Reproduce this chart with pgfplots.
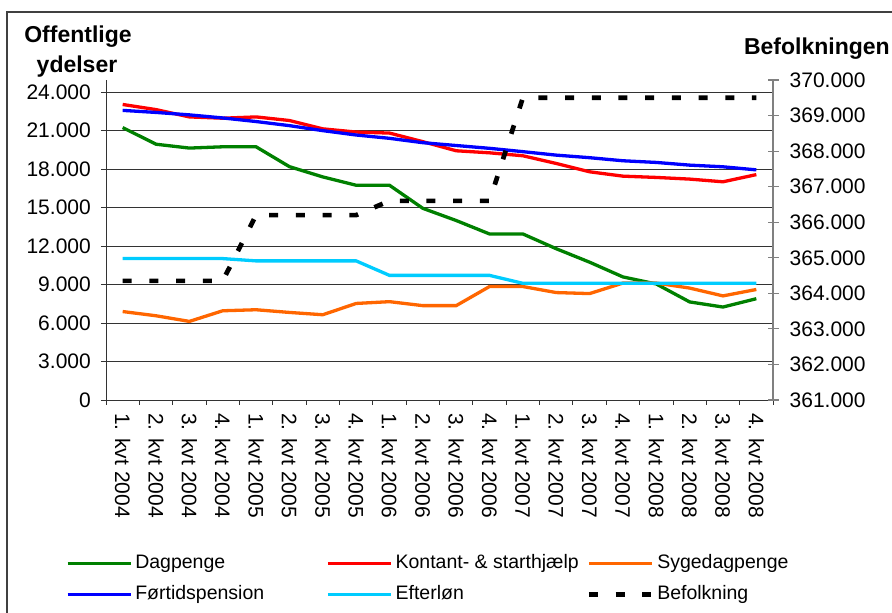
\documentclass[border=0pt]{standalone}
\usepackage{pgfplots}
\pgfplotsset{compat=1.18}
\usepackage{pgfplotstable}
\usepackage{fontspec}
\setmainfont{Liberation Sans}

\definecolor{cgreen}{RGB}{0,128,0}
\definecolor{cred}{RGB}{255,0,0}
\definecolor{corange}{RGB}{255,102,0}
\definecolor{cblue}{RGB}{0,0,255}
\definecolor{ccyan}{RGB}{0,204,255}

\pgfplotstableread{
x dag kon syg for eft bef
0 21250 23050 6900 22590 11030 364350
1 19950 22650 6570 22430 11030 364350
2 19650 22080 6130 22240 11030 364350
3 19750 21980 6960 22000 11030 364350
4 19750 22080 7040 21720 10850 366200
5 18200 21800 6830 21400 10850 366200
6 17400 21150 6650 21010 10850 366200
7 16750 20900 7530 20670 10850 366200
8 16750 20820 7670 20410 9720 366600
9 14950 20150 7360 20070 9720 366600
10 14000 19440 7360 19850 9720 366600
11 12950 19280 8850 19630 9720 366600
12 12950 19050 8850 19370 9100 369500
13 11800 18450 8380 19100 9100 369500
14 10750 17800 8300 18900 9100 369500
15 9600 17460 9120 18660 9100 369500
16 9050 17360 9120 18530 9100 369500
17 7650 17230 8730 18320 9100 369500
18 7250 17020 8120 18190 9100 369500
19 7900 17580 8620 17950 9100 369500
}\datatable

\begin{document}
\begin{tikzpicture}[x=1pt,y=1pt]
\useasboundingbox (0,0) rectangle (892,613);
\draw[black!75, line width=1.2pt] (7,-20) -- (7,601) -- (910,601);

\begin{axis}[
  at={(106pt,213pt)}, anchor=south west, scale only axis,
  width=667pt, height=320pt,
  xmin=-0.5, xmax=19.5, ymin=0, ymax=24960,
  axis x line*=bottom, axis y line*=left,
  axis line style={black!80, line width=0.9pt},
  tick style={black!80, line width=0.9pt},
  tick align=outside, major tick length=5pt,
  xtick={-0.5,0.5,...,19.5},
  x tick label as interval,
  xticklabels={1. kvt 2004,2. kvt 2004,3. kvt 2004,4. kvt 2004,1. kvt 2005,2. kvt 2005,3. kvt 2005,4. kvt 2005,1. kvt 2006,2. kvt 2006,3. kvt 2006,4. kvt 2006,1. kvt 2007,2. kvt 2007,3. kvt 2007,4. kvt 2007,1. kvt 2008,2. kvt 2008,3. kvt 2008,4. kvt 2008},
  xticklabel style={rotate=-90, anchor=west, inner sep=0pt},
  xticklabel shift=8pt,
  ytick={0,3000,...,24000},
  ymajorgrids, grid style={black!80, line width=0.9pt},
  tick label style={font=\fontsize{21}{25}\selectfont},
  /pgf/number format/assume math mode=true,
  /pgf/number format/1000 sep={.},
  yticklabel style={anchor=east, inner sep=0pt, xshift=-10pt},
  scaled y ticks=false,
  legend columns=3,
  legend cell align=left,
  legend style={draw=none, fill=none, at={(axis description cs:-0.06,-0.4815)}, anchor=north west,
    inner sep=0pt, outer sep=0pt, font=\fontsize{19.5}{22}\selectfont,
    nodes={inner sep=0pt, text height=14.5pt, text depth=4.5pt},
    /tikz/column sep=0pt, /tikz/row sep=12pt},
  legend image code/.code={\draw[#1] (0pt,0pt) -- (63pt,0pt); \path (66pt,0pt);},
]
\addplot[cgreen, line width=3.3pt] table[x=x,y=dag]{\datatable};
\addlegendentry{\makebox[191pt][l]{Dagpenge}}
\addplot[cred, line width=3.3pt] table[x=x,y=kon]{\datatable};
\addlegendentry{\makebox[191pt][l]{Kontant- \& starthjælp}}
\addplot[corange, line width=3.3pt] table[x=x,y=syg]{\datatable};
\addlegendentry{\makebox[191pt][l]{Sygedagpenge}}
\addplot[cblue, line width=3.3pt] table[x=x,y=for]{\datatable};
\addlegendentry{\makebox[191pt][l]{Førtidspension}}
\addplot[ccyan, line width=3.3pt] table[x=x,y=eft]{\datatable};
\addlegendentry{\makebox[191pt][l]{Efterløn}}
\addlegendimage{black, line width=4.7pt, dash pattern=on 9pt off 17.7pt}
\addlegendentry{\makebox[191pt][l]{Befolkning}}
\end{axis}

\begin{axis}[
  at={(106pt,213pt)}, anchor=south west, scale only axis,
  width=667pt, height=320pt,
  xmin=-0.5, xmax=19.5, ymin=361000, ymax=370000,
  axis x line=none, axis y line*=right,
  axis line style={black!50, line width=1.2pt},
  tick style={black!50, line width=1.2pt},
  tick align=center, major tick length=11pt,
  ytick={361000,362000,...,370000},
  scaled y ticks=false,
  tick label style={font=\fontsize{21}{25}\selectfont},
  /pgf/number format/assume math mode=true,
  /pgf/number format/fixed,
  /pgf/number format/1000 sep={.},
  yticklabel style={anchor=west, inner sep=0pt, xshift=11pt},
]
\addplot[black, line width=4.7pt, dash pattern=on 9pt off 17.7pt] table[x=x,y=bef]{\datatable};
\end{axis}

\node[font=\bfseries\fontsize{23}{25}\selectfont, anchor=base] at (78,570) {Offentlige};
\node[font=\bfseries\fontsize{23}{25}\selectfont, anchor=base] at (77,540) {ydelser};
\node[font=\bfseries\fontsize{23}{25}\selectfont, anchor=base west] at (740.5,558) {Befolkningen};
\end{tikzpicture}
\end{document}
